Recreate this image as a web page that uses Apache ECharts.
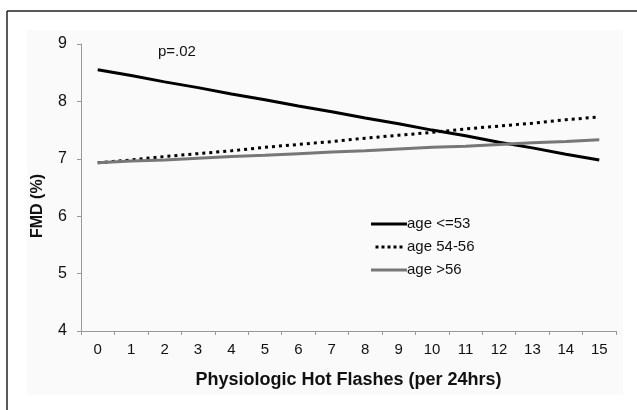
<!DOCTYPE html>
<html>
<head>
<meta charset="utf-8">
<script src="https://cdn.jsdelivr.net/npm/echarts@6/dist/echarts.min.js"></script>
<style>
  html, body { margin: 0; padding: 0; background: #fff; }
  #chart { width: 637px; height: 410px; }
</style>
</head>
<body>
<div id="chart"></div>
<script>
// hot flashes per 24 hrs
const categories = ["0", "1", "2", "3", "4", "5", "6", "7", "8", "9", "10", "11", "12", "13", "14", "15"];
// FMD (%)
const ageUpTo53 = [8.55, 8.45, 8.34, 8.24, 8.13, 8.03, 7.92, 7.82, 7.71, 7.61, 7.50, 7.40, 7.29, 7.19, 7.08, 6.98];
const age54to56 = [6.93, 6.98, 7.04, 7.09, 7.14, 7.20, 7.25, 7.30, 7.36, 7.41, 7.46, 7.52, 7.57, 7.62, 7.68, 7.73];
const ageOver56 = [6.93, 6.96, 6.98, 7.01, 7.04, 7.06, 7.09, 7.12, 7.14, 7.17, 7.20, 7.22, 7.25, 7.28, 7.30, 7.33];
const yTicks = [4, 5, 6, 7, 8, 9];

const chart = echarts.init(document.getElementById("chart"));
const font = "Arial, 'Liberation Sans', sans-serif";

chart.setOption({
  animation: false,
  backgroundColor: "#fff",
  textStyle: { fontFamily: font },
  graphic: [
    { type: "rect", shape: { x: 27, y: 30, width: 596, height: 365 }, style: { fill: "#fafafa" }, z: -10 },
    { type: "line", shape: { x1: 7, y1: 11, x2: 637, y2: 11 }, style: { stroke: "#222", lineWidth: 1.5 } },
    { type: "line", shape: { x1: 7, y1: 11, x2: 7, y2: 410 }, style: { stroke: "#222", lineWidth: 1.5 } },
    { type: "text", x: 158, y: 44, style: { text: "p=.02", font: "15px " + font, fill: "#111" } },
    {
      type: "text", x: 38, y: 206, rotation: Math.PI / 2,
      style: { text: "FMD (%)", font: "bold 16px " + font, fill: "#111", align: "center", verticalAlign: "middle" }
    }
  ],
  grid: { left: 81, right: 21, top: 44, bottom: 79, containLabel: false },
  legend: {
    orient: "vertical",
    left: 366,
    top: 210,
    itemWidth: 36,
    itemHeight: 3,
    itemGap: 5,
    icon: "rect",
    textStyle: { fontSize: 15, color: "#111", fontFamily: font, padding: [0, 0, 0, -5], lineHeight: 18 },
    data: [
      { name: "age <=53", itemStyle: { color: "#000" } },
      { name: "age 54-56", icon: "path://M0,0h4v4h-4zM8,0h4v4h-4zM16,0h4v4h-4zM24,0h4v4h-4zM32,0h4v4h-4z", itemStyle: { color: "#000" } },
      { name: "age >56", itemStyle: { color: "#777" } }
    ]
  },
  xAxis: {
    type: "category",
    data: categories,
    boundaryGap: true,
    name: "Physiologic Hot Flashes (per 24hrs)",
    nameLocation: "middle",
    nameGap: 40,
    nameTextStyle: { fontSize: 18, fontWeight: "bold", color: "#111", fontFamily: font },
    axisLine: { lineStyle: { color: "#999", width: 1 } },
    axisTick: { show: true, alignWithLabel: false, length: 4, lineStyle: { color: "#999" } },
    axisLabel: { fontSize: 15, color: "#111", margin: 11, fontFamily: font },
    splitLine: { show: false }
  },
  yAxis: {
    type: "value",
    min: yTicks[0],
    max: yTicks[yTicks.length - 1],
    interval: 1,
    axisLine: { show: true, lineStyle: { color: "#999", width: 1 } },
    axisTick: { show: true, length: 4, lineStyle: { color: "#999" } },
    axisLabel: { fontSize: 16, color: "#111", margin: 14, fontFamily: font },
    splitLine: { show: false }
  },
  series: [
    {
      name: "age <=53", type: "line", data: ageUpTo53, showSymbol: false,
      lineStyle: { color: "#000", width: 3 }, itemStyle: { color: "#000" }
    },
    {
      name: "age 54-56", type: "line", data: age54to56, showSymbol: false,
      lineStyle: { color: "#000", width: 3, type: [3, 4] }, itemStyle: { color: "#000" }
    },
    {
      name: "age >56", type: "line", data: ageOver56, showSymbol: false,
      lineStyle: { color: "#777", width: 3 }, itemStyle: { color: "#777" }
    }
  ]
});
</script>
</body>
</html>
